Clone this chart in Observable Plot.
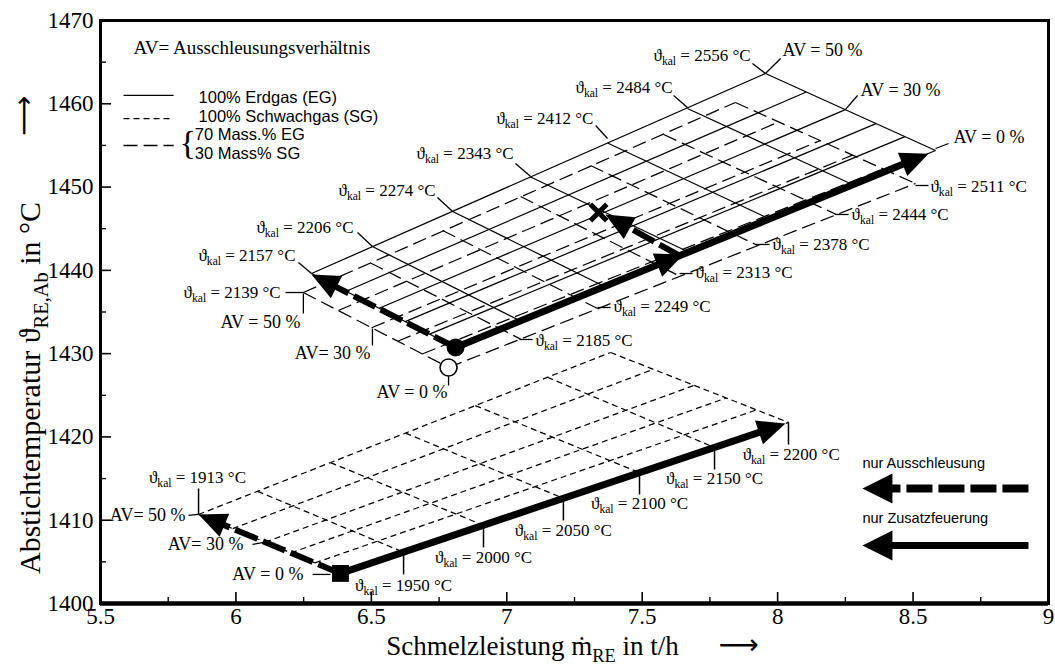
<!DOCTYPE html>
<html><head><meta charset="utf-8">
<script src="https://cdn.jsdelivr.net/npm/d3@7"></script>
<script src="https://cdn.jsdelivr.net/npm/@observablehq/plot@0.6"></script>
<style>body{margin:0;background:#fff}#chart{width:1055px;height:666px}</style>
</head><body><div id="chart"></div>
<script>
// ---------- axes ----------
const xTicks = [5.5, 6, 6.5, 7, 7.5, 8, 8.5, 9];
const xMinor = [5.75, 6.25, 6.75, 7.25, 7.75, 8.25, 8.75];
const yTicks = [1400, 1410, 1420, 1430, 1440, 1450, 1460, 1470];
const yMinor = [1405, 1415, 1425, 1435, 1445, 1455, 1465];
const avLevels = [0, 10, 20, 30, 40, 50];

// ---------- 100% Erdgas grid (solid) ----------
const egKal = [2157, 2206, 2274, 2343, 2412, 2484, 2556];
const egKalAV50 = [[6.279,1439.62],[6.504,1442.87],[6.800,1447.07],[7.088,1451.21],[7.372,1455.29],[7.667,1459.43],[7.955,1463.64]];
const egKalAV0  = [[6.811,1430.74],[7.047,1433.98],[7.361,1438.06],[7.667,1442.27],[7.966,1446.23],[8.276,1450.31],[8.583,1454.39]];
const egAVLow   = [[6.811,1430.74],[6.715,1432.34],[6.625,1433.85],[6.529,1435.45],[6.407,1437.49],[6.279,1439.62]];
const egAVHigh  = [[8.583,1454.39],[8.470,1456.06],[8.363,1457.62],[8.250,1459.29],[8.106,1461.42],[7.955,1463.64]];

// ---------- 70% EG / 30% SG grid (long dashed) ----------
const mixKal = [2139, 2185, 2249, 2313, 2378, 2444, 2511];
const mixKalAV50 = [[6.249,1437.34],[6.497,1440.89],[6.763,1444.79],[7.051,1448.87],[7.309,1452.59],[7.579,1456.31],[7.844,1460.16]];
const mixKalAV0  = [[6.785,1428.34],[7.051,1431.75],[7.335,1435.42],[7.641,1439.26],[7.926,1442.99],[8.217,1446.71],[8.509,1450.43]];
const mixAVLow   = [[6.785,1428.34],[6.688,1429.96],[6.597,1431.49],[6.501,1433.11],[6.378,1435.18],[6.249,1437.34]];
const mixAVHigh  = [[8.509,1450.43],[8.389,1452.18],[8.276,1453.83],[8.157,1455.58],[8.004,1457.82],[7.844,1460.16]];

// ---------- 100% Schwachgas grid (short dashed) ----------
const sgKal = [1913, 1950, 2000, 2050, 2100, 2150, 2200];
const sgKalAV50 = [[5.862,1410.69],[6.080,1413.47],[6.349,1416.92],[6.626,1420.46],[6.884,1423.76],[7.150,1427.16],[7.383,1430.14]];
const sgKalAV0  = [[6.386,1403.61],[6.619,1406.15],[6.914,1409.39],[7.209,1412.63],[7.490,1415.71],[7.767,1418.73],[8.040,1421.74]];
const sgAVLow   = [[6.386,1403.61],[6.292,1404.88],[6.203,1406.08],[6.108,1407.36],[5.988,1408.98],[5.862,1410.69]];
const sgAVHigh  = [[8.040,1421.74],[7.922,1423.25],[7.810,1424.68],[7.692,1426.19],[7.541,1428.12],[7.383,1430.14]];

// ---------- operating paths (thick arrows) ----------
const paths = [
  {x1:6.811, y1:1430.74, x2:8.557, y2:1454.00, kind:"feuerung"},
  {x1:6.811, y1:1430.74, x2:6.279, y2:1439.50, kind:"ausschleusung"},
  {x1:7.641, y1:1441.70, x2:7.364, y2:1446.71, kind:"ausschleusung"},
  {x1:6.386, y1:1403.61, x2:8.029, y2:1421.62, kind:"feuerung"},
  {x1:6.386, y1:1403.61, x2:5.862, y2:1410.69, kind:"ausschleusung"}
];
const midHead = [7.652, 1441.90];
const filledCircle = [6.811, 1430.74];
const openCircle = [6.785, 1428.34];
const squarePt = [6.386, 1403.61];
const crossPt = [7.339, 1446.95];

// ---------- annotations (anchor positions in data units) ----------
const topKal = [2556, 2484, 2412, 2343, 2274, 2206, 2157, 2139];
const topAnchor = [[7.900,1465.80],[7.612,1461.96],[7.320,1458.23],[7.025,1454.03],[6.737,1449.59],[6.434,1445.15],[6.220,1441.79],[6.165,1437.34]];
const topPointer = [[7.907,1464.84,7.955,1463.64],[7.616,1460.99,7.667,1459.55],[7.328,1457.39,7.372,1455.83],[7.032,1452.83,7.088,1451.27],
                    [6.744,1448.75,6.800,1447.07],[6.449,1444.55,6.504,1442.87],[6.231,1440.94,6.279,1439.62],[6.183,1437.34,6.249,1437.34]];
const rightKal = [2511, 2444, 2378, 2313, 2249, 2185];
const rightAnchor = [[8.564,1450.07],[8.273,1446.71],[7.981,1443.11],[7.697,1439.74],[7.394,1435.66],[7.106,1431.58]];
const rightPointer = [[8.509,1450.19,8.557,1450.19],[8.210,1446.71,8.262,1446.71],[7.918,1443.11,7.970,1443.11],
                      [7.638,1439.62,7.686,1439.62],[7.335,1435.54,7.383,1435.54],[7.047,1431.70,7.095,1431.70]];
const lowKal = [1950, 2000, 2050, 2100, 2150, 2200];
const lowAnchor = [[6.619,1402.17],[6.914,1405.53],[7.209,1408.77],[7.490,1412.01],[7.767,1415.01],[8.050,1417.89]];
const lowTickEnd = [1403.49, 1406.73, 1409.97, 1413.09, 1416.09, 1419.09];
const lowStart = {kal: 1913, anchor:[5.858,1415.13], pointer:[5.862,1413.81,5.862,1410.69]};

const avLabels = [
  {t:"AV = 50 %", a:[8.018,1466.40], p:[8.011,1465.44,7.955,1463.64], anchor:"start"},
  {t:"AV = 30 %", a:[8.306,1461.60], p:[8.295,1460.99,8.250,1459.29], anchor:"start"},
  {t:"AV = 0 %",  a:[8.649,1455.95], p:[8.631,1455.23,8.583,1454.63], anchor:"start"},
  {t:"AV = 50 %", a:[6.238,1433.74], p:[6.249,1437.22,6.249,1434.82], anchor:"end"},
  {t:"AV= 30 %",  a:[6.497,1430.02], p:[6.504,1433.02,6.504,1430.98], anchor:"end"},
  {t:"AV = 0 %",  a:[6.781,1425.34], p:[6.785,1427.38,6.785,1426.18], anchor:"end"},
  {t:"AV= 50 %",  a:[5.814,1410.57], p:[5.825,1410.57,5.862,1410.69], anchor:"end"},
  {t:"AV= 30 %",  a:[6.028,1407.09], p:[6.061,1407.09,6.108,1407.36], anchor:"end"},
  {t:"AV = 0 %",  a:[6.249,1403.49], p:[6.283,1403.49,6.349,1403.49], anchor:"end"}
];

// ---------- legends ----------
const legendRows = ["100% Erdgas (EG)", "100% Schwachgas (SG)", "70 Mass.% EG", "30 Mass% SG"];
const legendTextPos = [[5.862,1460.76],[5.862,1458.47],[5.848,1456.31],[5.848,1454.03]];
const legendSolid = [[5.585,5.770,1461.0]];
const legendShort = [[5.585,5.770,1458.23]];
const legendLong = [[5.585,5.770,1454.99]];
const bracePos = [5.822, 1455.23];
const avNotePos = [5.622, 1466.76];
const pathLegend = [
  {t:"nur Ausschleusung", tp:[8.313,1416.81], x1:8.926, x2:8.313, y:1413.81, kind:"ausschleusung"},
  {t:"nur Zusatzfeuerung", tp:[8.313,1410.21], x1:8.926, x2:8.313, y:1406.97, kind:"feuerung"}
];

// ---------- rendering ----------
const serif = "'Liberation Serif','Times New Roman',serif";
const sans = "'Liberation Sans',Arial,sans-serif";
const base = {
  width: 1055, height: 666,
  marginLeft: 100, marginRight: 7, marginTop: 20, marginBottom: 63,
  x: {domain: [5.5, 9]}, y: {domain: [1400, 1470]},
  style: {fontFamily: serif, fontSize: "23px", background: "white", color: "black", overflow: "visible"}
};
const probe = Plot.plot({...base, marks: [Plot.frame()]});
const sx = probe.scale("x"), sy = probe.scale("y");
const ang = (x1, y1, x2, y2) => Math.atan2(sy.apply(y2) - sy.apply(y1), sx.apply(x2) - sx.apply(x1)) * 180 / Math.PI;

const seg = (A, B) => A.map((a, i) => ({x1: a[0], y1: a[1], x2: B[i][0], y2: B[i][1]}));
const lk = (data, dash, w = 1.25) => Plot.link(data, {x1: "x1", y1: "y1", x2: "x2", y2: "y2", stroke: "black", strokeWidth: w, strokeDasharray: dash});
const ptr = arr => arr.map(p => ({x1: p[0], y1: p[1], x2: p[2], y2: p[3]}));
const hl = arr => arr.map(p => ({x1: p[0], y1: p[2], x2: p[1], y2: p[2]}));

const headSym = (L, W) => ({draw(ctx) { ctx.moveTo(0, 0); ctx.lineTo(-L, -W / 2); ctx.lineTo(-L, W / 2); ctx.closePath(); }});
const heads = paths.map(d => ({x: d.x2, y: d.y2, angle: ang(d.x1, d.y1, d.x2, d.y2)}));
heads.push({x: midHead[0], y: midHead[1], angle: heads[0].angle});
const legHeads = pathLegend.map(d => ({x: d.x2, y: d.y, angle: ang(d.x1, d.y, d.x2, d.y)}));

const shaft = (data, opts) => Plot.arrow(data, {x1: "x1", y1: "y1", x2: "x2", y2: "y2", stroke: "black", headLength: 0, insetEnd: 16, strokeLinecap: "butt", ...opts});

const kalText = k => `ϑ_{kal} = ${k} °C`;

const plot = Plot.plot({
  ...base,
  marks: [
    // grids
    lk(seg(sgKalAV50, sgKalAV0), "6,4"),
    lk(seg(sgAVLow, sgAVHigh), "6,4"),
    lk(seg(mixKalAV50, mixKalAV0), "14,6"),
    lk(seg(mixAVLow, mixAVHigh), "14,6"),
    lk(seg(egKalAV50, egKalAV0), undefined),
    lk(seg(egAVLow, egAVHigh), undefined),
    // pointers
    lk(ptr(topPointer), undefined, 1.3),
    lk(ptr(rightPointer), undefined, 1.3),
    lk(sgKalAV0.slice(1).map((p, i) => ({x1: p[0], y1: p[1], x2: p[0], y2: lowTickEnd[i]})), undefined, 1.5),
    lk(ptr([lowStart.pointer]), undefined, 1.5),
    lk(ptr(avLabels.map(d => d.p)), undefined, 1.3),
    // labels
    Plot.text(topKal, {x: (d, i) => topAnchor[i][0], y: (d, i) => topAnchor[i][1], text: kalText, textAnchor: "end", fontSize: 17, fontFamily: serif}),
    Plot.text(rightKal, {x: (d, i) => rightAnchor[i][0], y: (d, i) => rightAnchor[i][1], text: kalText, textAnchor: "start", fontSize: 17, fontFamily: serif}),
    Plot.text(lowKal, {x: (d, i) => lowAnchor[i][0], y: (d, i) => lowAnchor[i][1], text: kalText, textAnchor: "middle", fontSize: 17, fontFamily: serif}),
    Plot.text([lowStart], {x: d => d.anchor[0], y: d => d.anchor[1], text: d => kalText(d.kal), textAnchor: "middle", fontSize: 17, fontFamily: serif}),
    Plot.text(avLabels.filter(d => d.anchor === "start"), {x: d => d.a[0], y: d => d.a[1], text: "t", textAnchor: "start", fontSize: 18, fontFamily: serif}),
    Plot.text(avLabels.filter(d => d.anchor === "end"), {x: d => d.a[0], y: d => d.a[1], text: "t", textAnchor: "end", fontSize: 18, fontFamily: serif}),
    // thick paths
    shaft(paths.filter(d => d.kind === "feuerung"), {strokeWidth: 7}),
    shaft(paths.filter(d => d.kind === "ausschleusung"), {strokeWidth: 6, strokeDasharray: "24,6"}),
    Plot.dot(heads, {x: "x", y: "y", rotate: "angle", symbol: headSym(28, 25), r: 10, fill: "black"}),
    // markers
    Plot.dot([filledCircle], {x: d => d[0], y: d => d[1], r: 9, fill: "black"}),
    Plot.dot([openCircle], {x: d => d[0], y: d => d[1], r: 8.5, fill: "white", stroke: "black", strokeWidth: 1.6}),
    Plot.dot([squarePt], {x: d => d[0], y: d => d[1], symbol: "square", r: 9.5, fill: "black"}),
    Plot.dot([crossPt], {x: d => d[0], y: d => d[1], symbol: "times", r: 7.5, stroke: "black", strokeWidth: 5}),
    // top-left legend
    Plot.text(["AV= Ausschleusungsverhältnis"], {x: avNotePos[0], y: avNotePos[1], text: d => d, textAnchor: "start", fontSize: 19, fontFamily: serif}),
    Plot.text(legendRows, {x: (d, i) => legendTextPos[i][0], y: (d, i) => legendTextPos[i][1], text: d => d, textAnchor: "start", fontSize: 16.5, fontFamily: sans}),
    lk(hl(legendSolid), undefined, 1.3),
    lk(hl(legendShort), "6,4", 1.3),
    lk(hl(legendLong), "14,6", 1.3),
    Plot.text(["{"], {x: bracePos[0], y: bracePos[1], text: d => d, fontSize: 34, fontFamily: serif}),
    // bottom-right legend
    Plot.text(pathLegend, {x: d => d.tp[0], y: d => d.tp[1], text: "t", textAnchor: "start", fontSize: 14.5, fontFamily: sans}),
    shaft(pathLegend.filter(d => d.kind === "feuerung").map(d => ({x1: d.x1, y1: d.y, x2: d.x2, y2: d.y})), {strokeWidth: 7, insetEnd: 20}),
    shaft(pathLegend.filter(d => d.kind === "ausschleusung").map(d => ({x1: d.x1, y1: d.y, x2: d.x2, y2: d.y})), {strokeWidth: 8, insetEnd: 20, strokeDasharray: "26,6"}),
    Plot.dot(legHeads, {x: "x", y: "y", rotate: "angle", symbol: headSym(30, 30), r: 10, fill: "black"}),
    // axes
    Plot.axisY({ticks: yTicks, tickSize: 0, tickPadding: 7, tickFormat: d => String(d), label: null, fontSize: 23}),
    Plot.axisY({ticks: yTicks, tickSize: -11, tickFormat: () => "", label: null, strokeWidth: 1.6}),
    Plot.axisY({ticks: yMinor, tickSize: -6, tickFormat: () => "", label: null, strokeWidth: 1.4}),
    Plot.axisX({ticks: xTicks, tickSize: 0, tickPadding: 4, tickFormat: d => String(d), label: null, fontSize: 23}),
    Plot.axisX({ticks: xTicks, tickSize: -11, tickFormat: () => "", label: null, strokeWidth: 1.6}),
    Plot.axisX({ticks: xMinor, tickSize: -6, tickFormat: () => "", label: null, strokeWidth: 1.4}),
    Plot.frame({stroke: "black", strokeWidth: 3}),
    Plot.ruleY([1400], {stroke: "black", strokeWidth: 4.5}),
    // axis titles
    Plot.text(["Schmelzleistung ṁ_{RE} in t/h"], {frameAnchor: "bottom", textAnchor: "middle", lineAnchor: "middle", dx: -42, dy: 43, text: d => d, fontSize: 27, fontFamily: serif}),
    Plot.text(["⟶"], {frameAnchor: "bottom", textAnchor: "middle", lineAnchor: "middle", dx: 164, dy: 42, text: d => d, fontSize: 28, fontFamily: "'DejaVu Sans',sans-serif"}),
    Plot.text(["Abstichtemperatur ϑ_{RE,Ab} in °C"], {frameAnchor: "left", textAnchor: "middle", lineAnchor: "middle", rotate: -90, dx: -70, dy: 76, text: d => d, fontSize: 30, fontFamily: serif}),
    Plot.text(["⟶"], {frameAnchor: "left", textAnchor: "middle", lineAnchor: "middle", rotate: -90, dx: -76, dy: -196, text: d => d, fontSize: 28, fontFamily: "'DejaVu Sans',sans-serif"})
  ]
});
document.getElementById("chart").append(plot);

// subscripts: turn "_{...}" into shifted tspans
const NS = "http://www.w3.org/2000/svg";
plot.querySelectorAll("text").forEach(t => {
  const s = t.textContent;
  if (!s.includes("_{")) return;
  const fs = parseFloat(getComputedStyle(t).fontSize) || 16;
  const sh = fs * 0.25;
  t.textContent = "";
  let shifted = false;
  for (const p of s.split(/(_\{[^}]*\})/)) {
    if (!p) continue;
    const ts = document.createElementNS(NS, "tspan");
    if (p.startsWith("_{")) {
      ts.textContent = p.slice(2, -1);
      ts.setAttribute("font-size", (fs * 0.68).toFixed(1));
      ts.setAttribute("dy", sh.toFixed(1));
      shifted = true;
    } else {
      ts.textContent = p;
      if (shifted) { ts.setAttribute("dy", (-sh).toFixed(1)); shifted = false; }
    }
    t.appendChild(ts);
  }
});
</script>
</body></html>
